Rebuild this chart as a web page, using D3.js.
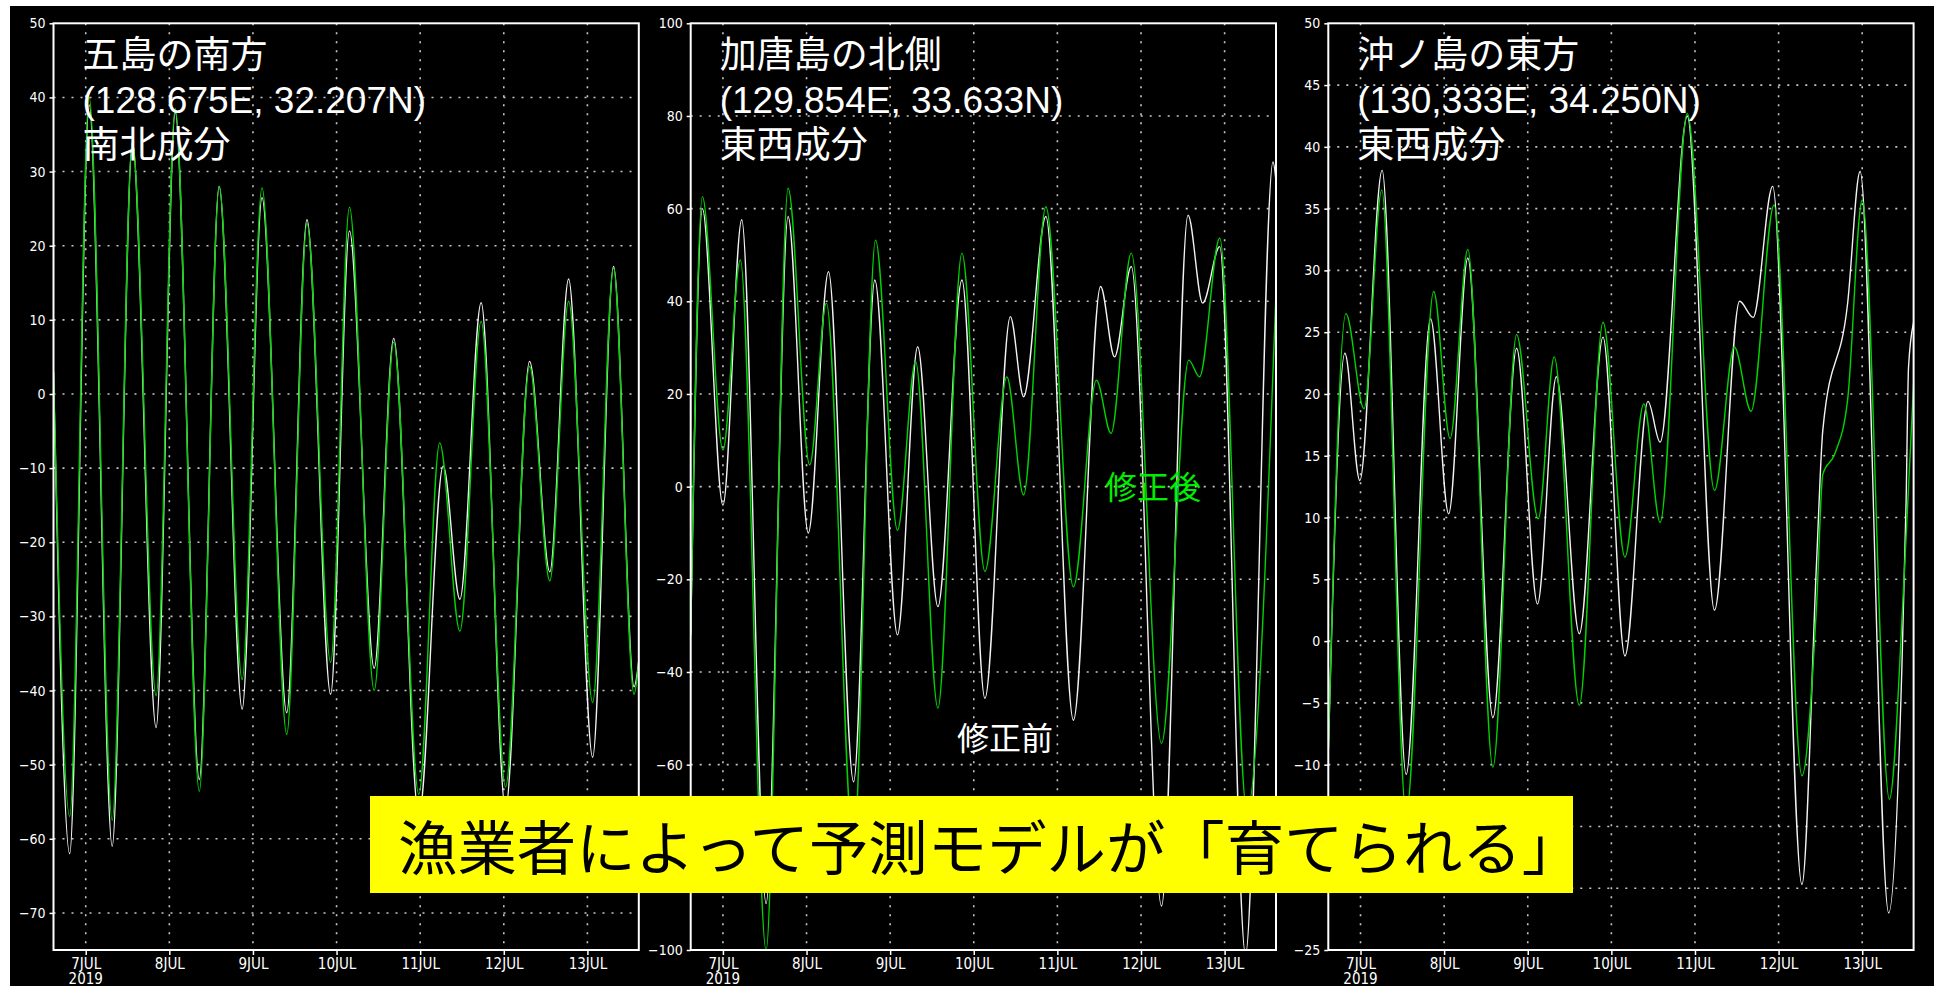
<!DOCTYPE html>
<html><head><meta charset="utf-8">
<script src="https://cdn.jsdelivr.net/npm/d3@7"></script>
<style>html,body{margin:0;padding:0;background:#fff;overflow:hidden}</style>
</head><body><svg id="c" width="1934" height="986"></svg>
<script>
// ---------- data (hours from 2019-07-07 00:00, value) ----------
const dayLabels = ["7JUL","8JUL","9JUL","10JUL","11JUL","12JUL","13JUL"];
const yearLabel = "2019";
const timeRangeHours = [-9.25, 158.75];

const titles1 = ["五島の南方", "(128.675E, 32.207N)", "南北成分"];
const titles2 = ["加唐島の北側", "(129.854E, 33.633N)", "東西成分"];
const titles3 = ["沖ノ島の東方", "(130,333E, 34.250N)", "東西成分"];

const yTicks1 = [50,40,30,20,10,0,-10,-20,-30,-40,-50,-60,-70];
const yTicks2 = [100,80,60,40,20,0,-20,-40,-60,-80,-100];
const yTicks3 = [50,45,40,35,30,25,20,15,10,5,0,-5,-10,-15,-20,-25];
const yDomain1 = [-75, 50];
const yDomain2 = [-100, 100];
const yDomain3 = [-25, 50];

// 五島の南方 修正前 (white) / 修正後 (green)
const p1Before = [[-9.25,3],[-4.6,-62],[1.0,39],[7.6,-61],[13.4,34],[20.2,-45],[25.7,38],[32.6,-52],[38.3,28],[44.9,-42.5],[50.6,26.5],[57.7,-43],[63.5,23.5],[70.3,-40.5],[75.7,22],[82.8,-37],[88.4,7.5],[95.6,-57],[102.6,-9.7],[107.4,-27.7],[113.5,12.3],[120.5,-56],[127.4,4.4],[133.2,-24],[138.6,15.5],[145.5,-49],[151.5,17.2],[157.4,-39.5],[158.75,-36]];
const p1After  = [[-9.25,3],[-4.6,-57],[1.0,40],[7.6,-57.5],[13.4,34],[20.2,-40.7],[25.7,38.5],[32.6,-53.6],[38.3,28],[44.9,-38.5],[50.6,27.8],[57.7,-45.9],[63.5,23],[70.3,-36.2],[75.7,25.2],[82.8,-40],[88.4,7],[95.6,-54],[101.6,-6.6],[107.4,-32],[113.5,9.8],[120.5,-53],[127.4,3.7],[133.2,-25.2],[138.6,12.5],[145.5,-41.6],[151.5,17],[157.4,-40.5],[158.75,-36]];

// 加唐島の北側
const p2Before = [[-9.25,-32],[-5.9,60],[0,-4],[5.4,57.6],[12.4,-90],[18.7,58.3],[24.5,-10],[30.3,46.4],[37.5,-63.7],[43.6,44.6],[50.1,-32],[55.9,30.2],[61.7,-25.9],[68.6,44.6],[75.2,-45.7],[82.5,36.7],[86.3,19.4],[92.7,58.3],[100.6,-50.4],[108.4,43.2],[112.4,28],[117.2,47.5],[125.9,-90.5],[133.5,58.6],[137.7,39.6],[142.6,51.8],[150,-101],[157.9,70.1],[158.75,66]];
const p2After  = [[-9.25,-32],[-5.9,62.6],[0,7.9],[5.0,48.9],[12.4,-100],[18.7,64.4],[24.9,4.7],[29.7,39.6],[37.5,-78],[43.8,53.2],[50.1,-9.4],[55.3,27],[61.7,-47.8],[68.6,50.4],[75.2,-18.3],[81.5,23.7],[86.3,-1.8],[92.7,60.4],[100.6,-21.6],[107.2,23],[111.4,11.5],[117.2,50.4],[125.9,-55.4],[133.7,27.3],[136.8,23.7],[142.6,53.6],[150.4,-70],[158.75,42]];

// 沖ノ島の東方
const p3Before = [[-9.25,-9],[-4.5,23.3],[-0.2,13],[6.2,38.1],[13.1,-10.8],[20.1,26.1],[25.3,10.3],[30.8,31],[38,-6.2],[44.8,23.7],[50.8,3],[56.2,21.4],[62.8,0.6],[69.6,24.6],[75.9,-1.2],[82.5,19.4],[86,16.1],[93.8,42.5],[101.6,2.5],[108.8,27.5],[112.7,26.2],[118.3,36.8],[126.7,-19.7],[130.9,6.4],[132.7,17.1],[139.8,27.3],[143.4,38],[151.6,-22],[155.4,-2],[156.6,11.3],[157.3,22.2],[158.75,25.8]];
const p3After  = [[-9.25,-9],[-4.2,26.5],[1.0,18.8],[6.1,36.5],[13.1,-14],[21,28.3],[25.7,16.4],[30.8,31.7],[38,-10.2],[44.8,24.8],[51,9.9],[55.6,23],[62.8,-5.2],[69.6,25.8],[75.9,6.8],[81.3,19.2],[86,9.6],[93.8,42.7],[101.6,12.2],[107.3,23.8],[112.1,18.6],[118.7,35.3],[126.7,-10.9],[130.9,2.9],[132.7,13.5],[136.2,15.2],[139.8,19.5],[144,35.7],[151.8,-12.8],[156,5],[158.75,20.8]];

const labelAfter = "修正後";
const labelBefore = "修正前";
const banner = "漁業者によって予測モデルが「育てられる」";

// ---------- drawing ----------
const svg = d3.select("#c");
svg.append("rect").attr("x",0).attr("y",0).attr("width",1934).attr("height",986).attr("fill","#fff");
svg.append("rect").attr("x",10).attr("y",6).attr("width",1924).attr("height",980).attr("fill","#000");

const base = Date.UTC(2019,6,7);
const toDate = h => new Date(base + h*3600e3);
const axisFont = "'Liberation Sans Narrow','DejaVu Sans Condensed',sans-serif";
const titleFont = "'Liberation Sans','Noto Sans CJK JP',sans-serif";
const cjkFont = "'Noto Sans CJK JP',sans-serif";
const WHITE = "#f2f2f2", GREEN = "#00d400";

const panels = [
  {left:53.5, titles:titles1, yTicks:yTicks1, yDomain:yDomain1, before:p1Before, after:p1After},
  {left:690.7, titles:titles2, yTicks:yTicks2, yDomain:yDomain2, before:p2Before, after:p2After},
  {left:1328.3, titles:titles3, yTicks:yTicks3, yDomain:yDomain3, before:p3Before, after:p3After}
];
const W = 585.3, TOP = 23.3, BOTTOM = 950;

panels.forEach((p, i) => {
  const x = d3.scaleUtc().domain(timeRangeHours.map(toDate)).range([p.left, p.left + W]);
  const y = d3.scaleLinear().domain(p.yDomain).range([BOTTOM, TOP]);
  const g = svg.append("g");
  const dayDates = dayLabels.map((d, k) => toDate(24*k));

  // grid
  const grid = g.append("g").attr("stroke","#c8c8c8").attr("stroke-width",1.6).attr("stroke-dasharray","2,7");
  grid.selectAll(".h").data(p.yTicks.filter(v => v > p.yDomain[0] && v < p.yDomain[1]))
    .join("line").attr("x1", p.left).attr("x2", p.left+W).attr("y1", d=>y(d)).attr("y2", d=>y(d));
  grid.selectAll(".v").data(dayDates)
    .join("line").attr("x1", d=>x(d)).attr("x2", d=>x(d)).attr("y1", TOP).attr("y2", BOTTOM);

  // axes
  const ya = d3.axisLeft(y).tickValues(p.yTicks).tickSize(4).tickPadding(4);
  const yg = g.append("g").attr("transform", `translate(${p.left},0)`).call(ya);
  const xa = d3.axisBottom(x).tickValues(dayDates).tickSize(5).tickPadding(3)
    .tickFormat((d, k) => dayLabels[k]);
  const xg = g.append("g").attr("transform", `translate(0,${BOTTOM})`).call(xa);
  [yg, xg].forEach(a => {
    a.select(".domain").remove();
    a.selectAll("line").attr("stroke","#fff").attr("stroke-width",1.5);
    a.selectAll("text").attr("fill","#fff").style("font-family", axisFont);
  });
  yg.selectAll("text").style("font-size","14px");
  xg.selectAll("text").style("font-size","15px");
  xg.append("text").attr("x", x(dayDates[0])).attr("y", 33.5).attr("text-anchor","middle")
    .attr("fill","#fff").style("font-family", axisFont).style("font-size","15px").text(yearLabel);

  // lines
  const clipId = "clip"+i;
  svg.append("clipPath").attr("id", clipId).append("rect")
    .attr("x", p.left).attr("y", TOP).attr("width", W).attr("height", BOTTOM-TOP);
  const line = d3.line().x(d => x(toDate(d[0]))).y(d => y(d[1])).curve(d3.curveMonotoneX);
  const lg = g.append("g").attr("clip-path", `url(#${clipId})`);
  lg.append("path").datum(p.before).attr("d", line).attr("fill","none").attr("stroke",WHITE).attr("stroke-width",1.4);
  lg.append("path").datum(p.after).attr("d", line).attr("fill","none").attr("stroke",GREEN).attr("stroke-width",1.4);

  // frame
  g.append("rect").attr("x", p.left).attr("y", TOP).attr("width", W).attr("height", BOTTOM-TOP)
    .attr("fill","none").attr("stroke","#fff").attr("stroke-width",2);

  // titles
  const tl = [67.5, 113, 157.5];
  p.titles.forEach((t, k) => {
    g.append("text").attr("x", p.left + 29).attr("y", tl[k]).attr("fill","#fff")
      .style("font-family", titleFont).style("font-size","37px").text(t);
  });
});

// annotations
svg.append("text").attr("x",1105).attr("y",499).attr("fill","#00ee00")
  .style("font-family", cjkFont).style("font-size","32px").text(labelAfter);
svg.append("text").attr("x",957).attr("y",750).attr("fill","#fff")
  .style("font-family", cjkFont).style("font-size","32px").text(labelBefore);

// banner
svg.append("rect").attr("x",370).attr("y",796).attr("width",1203).attr("height",97).attr("fill","#ffff00");
svg.append("text").attr("x",398).attr("y",870).attr("fill","#000")
  .style("font-family", cjkFont).style("font-size","59.4px").text(banner);
</script>
</body></html>
